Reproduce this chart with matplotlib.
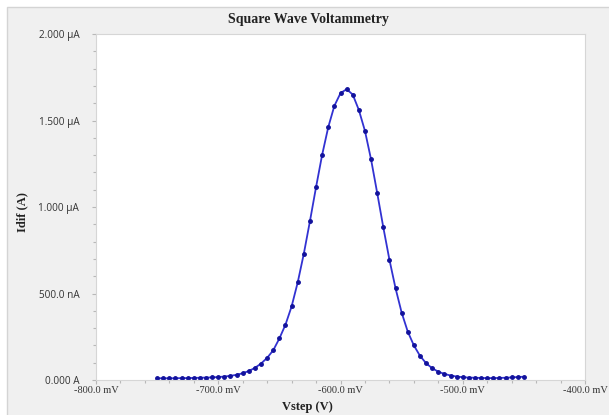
import matplotlib
matplotlib.use("Agg")
import matplotlib.pyplot as plt
from matplotlib.patches import Rectangle
from matplotlib.ticker import MultipleLocator, FixedLocator, FixedFormatter

# step potential (mV) and difference current (uA)
vstep_mv = [
    -750, -745, -740, -735, -730, -725, -720, -715, -710, -705,
    -700, -695, -690, -685, -680, -675, -670, -665, -660, -655,
    -650, -645, -640, -635, -630, -625, -620, -615, -610, -605,
    -600, -595, -590, -585, -580, -575, -570, -565, -560, -555,
    -550, -545, -540, -535, -530, -525, -520, -515, -510, -505,
    -500, -495, -490, -485, -480, -475, -470, -465, -460, -455,
    -450,
]
idif_ua = [
    0.010, 0.010, 0.010, 0.010, 0.011, 0.011, 0.012, 0.013, 0.014, 0.015,
    0.017, 0.020, 0.024, 0.030, 0.039, 0.052, 0.070, 0.095, 0.128, 0.172,
    0.240, 0.320, 0.425, 0.564, 0.730, 0.918, 1.115, 1.302, 1.462, 1.585,
    1.658, 1.681, 1.650, 1.561, 1.440, 1.275, 1.082, 0.883, 0.696, 0.531,
    0.390, 0.280, 0.200, 0.140, 0.097, 0.068, 0.048, 0.035, 0.026, 0.020,
    0.016, 0.014, 0.013, 0.012, 0.011, 0.011, 0.012, 0.013, 0.015, 0.017,
    0.019,
]

x_ticks = [-800, -700, -600, -500, -400]
x_labels = ["-800.0 mV", "-700.0 mV", "-600.0 mV", "-500.0 mV", "-400.0 mV"]
y_ticks = [0, 0.5, 1.0, 1.5, 2.0]
y_labels = ["0.000 A", "500.0 nA", "1.000 \u00b5A", "1.500 \u00b5A", "2.000 \u00b5A"]

fig = plt.figure(figsize=(6.09, 4.15), dpi=100)
fig.patch.set_facecolor("white")
# grey panel behind everything
fig.patches.append(Rectangle((7 / 609, -0.05), 1.0, 1 - 7 / 415 + 0.05,
                             transform=fig.transFigure, facecolor="#f0f0f0",
                             edgecolor="#d4d4d4", linewidth=1.0, zorder=0))

ax = fig.add_axes([96 / 609, 1 - 380 / 415, (585 - 96) / 609, (380 - 34) / 415])
ax.set_zorder(2)
ax.set_facecolor("white")

ax.plot(vstep_mv, idif_ua, color="#3232d2", linewidth=1.3, marker="o",
        markersize=2.5, markerfacecolor="#12129c", markeredgecolor="#12129c",
        clip_on=False)

ax.set_xlim(-800, -400)
ax.set_ylim(0, 2.0)
ax.xaxis.set_major_locator(FixedLocator(x_ticks))
ax.xaxis.set_major_formatter(FixedFormatter(x_labels))
ax.xaxis.set_minor_locator(MultipleLocator(20))
ax.yaxis.set_major_locator(FixedLocator(y_ticks))
ax.yaxis.set_major_formatter(FixedFormatter(y_labels))
ax.yaxis.set_minor_locator(MultipleLocator(0.1))

ax.tick_params(which="both", direction="out", color="#b8b8b8", width=0.8)
ax.tick_params(which="major", length=3)
ax.tick_params(which="minor", length=2)
ax.tick_params(axis="x", pad=1, labelsize=7.5, labelcolor="#333333")
ax.tick_params(axis="y", pad=9, labelsize=7.2, labelcolor="#333333")
for lab in ax.get_xticklabels():
    lab.set_fontfamily("Liberation Serif")
for lab in ax.get_yticklabels():
    lab.set_fontfamily("Open Sans")

for side in ["top", "left", "right", "bottom"]:
    ax.spines[side].set_color("#d6d6d6")
    ax.spines[side].set_linewidth(0.8)

fig.text(308 / 609, 1 - 20 / 415, "Square Wave Voltammetry", ha="center",
         va="center", fontsize=10, fontweight="bold", family="Liberation Serif",
         color="#222222", zorder=3)
fig.text(307 / 609, 1 - 407 / 415, "Vstep (V)", ha="center", va="center",
         fontsize=9, fontweight="bold", family="Liberation Serif", color="#222222",
         zorder=3)
fig.text(22 / 609, 1 - 212 / 415, "Idif (A)", ha="center", va="center",
         rotation=90, fontsize=9, fontweight="bold", family="Liberation Serif",
         color="#222222", zorder=3)

fig.savefig("out.png", dpi=100)
